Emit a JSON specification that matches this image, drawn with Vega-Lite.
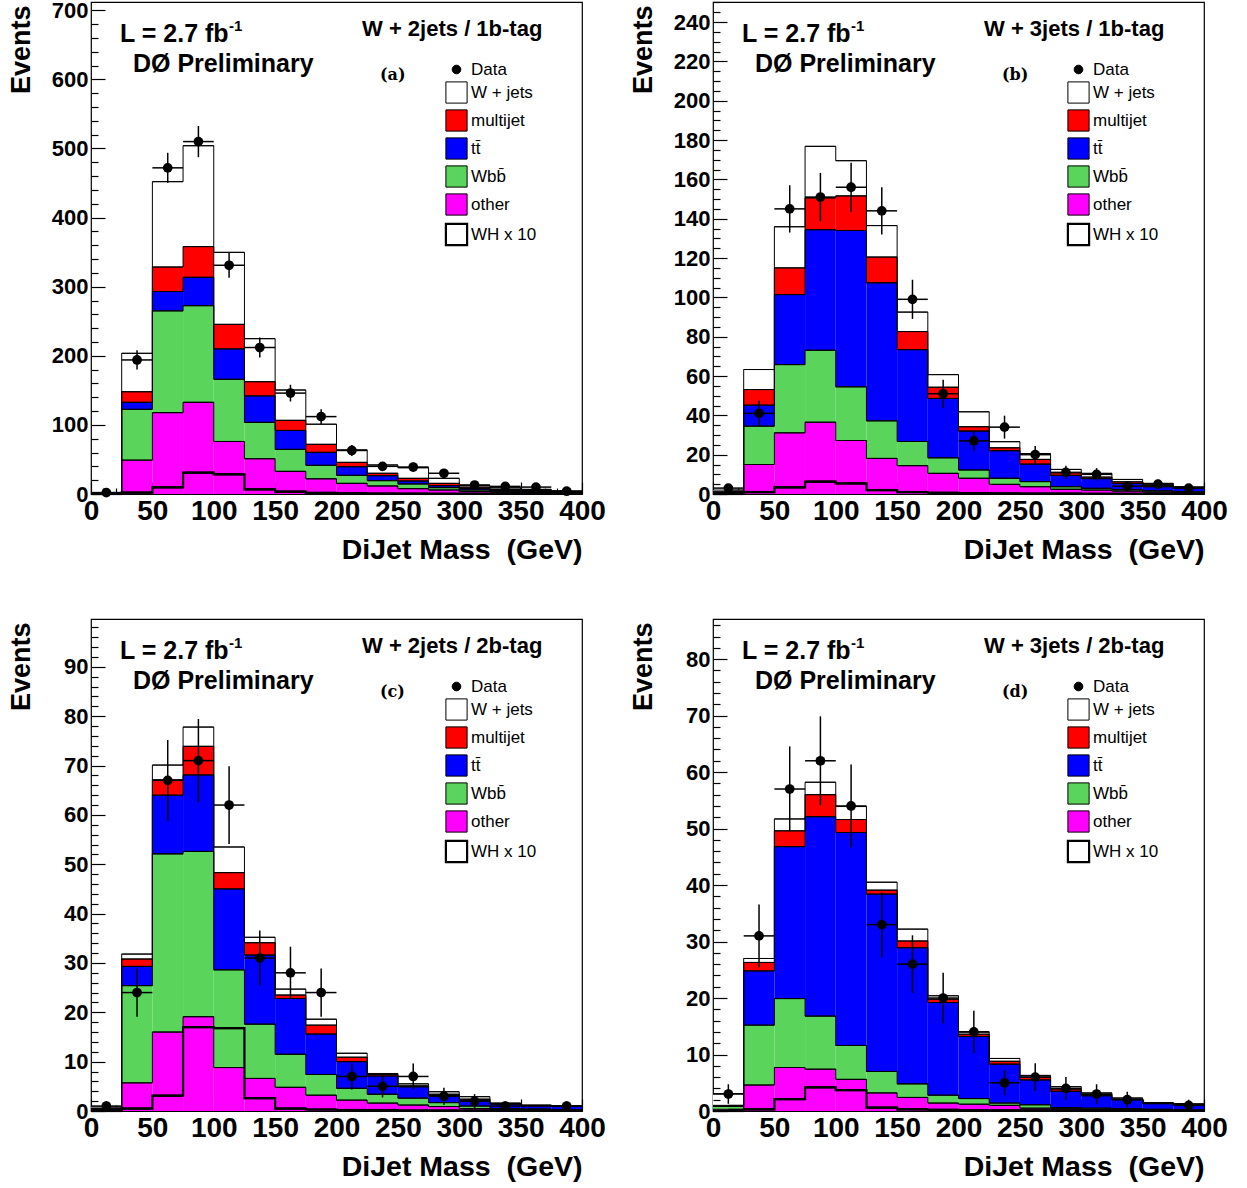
{
"$schema": "https://vega.github.io/schema/vega-lite/v6.json",
"padding": {"left": 6, "top": -2, "right": 0, "bottom": 0},
"datasets": {
"comps": [{"key":"other","comp":"other","k":0},{"key":"wbb","comp":"Wbb\u0304","k":1},{"key":"tt","comp":"tt\u0304","k":2},{"key":"mj","comp":"multijet","k":3},{"key":"wj","comp":"W + jets","k":4}],
"notes": [{"p":"a","t":"W + 2jets / 1b-tag","g":"(a)"},{"p":"b","t":"W + 3jets / 1b-tag","g":"(b)"},{"p":"c","t":"W + 2jets / 2b-tag","g":"(c)"},{"p":"d","t":"W + 3jets / 2b-tag","g":"(d)"}],
"h": [
{"p":"a","lo":0,"hi":25,"m":12.5,"other":0.2,"wbb":0.3,"tt":0.1,"mj":0.6,"wj":1.0,"wh":0,"n":2,"nlo":0.59,"nhi":3.41},
{"p":"a","lo":25,"hi":50,"m":37.5,"other":49,"wbb":73.5,"tt":10.2,"mj":15.3,"wj":55.6,"wh":2,"n":194,"nlo":180.07,"nhi":207.93},
{"p":"a","lo":50,"hi":75,"m":62.5,"other":117.7,"wbb":147.3,"tt":28,"mj":35.5,"wj":123.5,"wh":9.7,"n":472,"nlo":450.27,"nhi":493.73},
{"p":"a","lo":75,"hi":100,"m":87.5,"other":132.7,"wbb":139.8,"tt":41.1,"mj":44.4,"wj":146,"wh":30.8,"n":510,"nlo":487.42,"nhi":532.58},
{"p":"a","lo":100,"hi":125,"m":112.5,"other":76,"wbb":90,"tt":44,"mj":35.5,"wj":104.2,"wh":28.5,"n":331,"nlo":312.81,"nhi":349.19},
{"p":"a","lo":125,"hi":150,"m":137.5,"other":51,"wbb":52.7,"tt":38.3,"mj":20.5,"wj":62.3,"wh":6.8,"n":212,"nlo":197.44,"nhi":226.56},
{"p":"a","lo":150,"hi":175,"m":162.5,"other":32.8,"wbb":31.8,"tt":27.4,"mj":14.6,"wj":43.9,"wh":3.4,"n":146,"nlo":133.92,"nhi":158.08},
{"p":"a","lo":175,"hi":200,"m":187.5,"other":22,"wbb":19.5,"tt":18.8,"mj":11.6,"wj":29.1,"wh":1.5,"n":112,"nlo":101.42,"nhi":122.58},
{"p":"a","lo":200,"hi":225,"m":212.5,"other":15.4,"wbb":11.6,"tt":12.5,"mj":6.3,"wj":17.9,"wh":1,"n":63,"nlo":55.06,"nhi":70.94},
{"p":"a","lo":225,"hi":250,"m":237.5,"other":11.6,"wbb":7.7,"tt":7.2,"mj":3.5,"wj":12,"wh":0.6,"n":40,"nlo":33.68,"nhi":46.32},
{"p":"a","lo":250,"hi":275,"m":262.5,"other":7.7,"wbb":6.8,"tt":4.3,"mj":3.9,"wj":15.3,"wh":0.4,"n":39,"nlo":32.76,"nhi":45.24},
{"p":"a","lo":275,"hi":300,"m":287.5,"other":5.8,"wbb":3.4,"tt":2.8,"mj":3.4,"wj":7.3,"wh":0.3,"n":30,"nlo":24.52,"nhi":35.48},
{"p":"a","lo":300,"hi":325,"m":312.5,"other":3.4,"wbb":2.4,"tt":2.4,"mj":1.8,"wj":2.5,"wh":0.2,"n":13,"nlo":9.39,"nhi":16.61},
{"p":"a","lo":325,"hi":350,"m":337.5,"other":2.5,"wbb":1.5,"tt":1.5,"mj":1.3,"wj":2.2,"wh":0.1,"n":11,"nlo":7.68,"nhi":14.32},
{"p":"a","lo":350,"hi":375,"m":362.5,"other":1.8,"wbb":1.0,"tt":1.2,"mj":1.0,"wj":1.7,"wh":0.1,"n":10,"nlo":6.84,"nhi":13.16},
{"p":"a","lo":375,"hi":400,"m":387.5,"other":1.2,"wbb":0.8,"tt":0.8,"mj":0.7,"wj":1.0,"wh":0.1,"n":4,"nlo":2,"nhi":6},
{"p":"b","lo":0,"hi":25,"m":12.5,"other":0.2,"wbb":0.4,"tt":0.3,"mj":0.3,"wj":0.8,"wh":0,"n":3,"nlo":1.27,"nhi":4.73},
{"p":"b","lo":25,"hi":50,"m":37.5,"other":15,"wbb":19.5,"tt":10.7,"mj":7.9,"wj":10.2,"wh":1,"n":41,"nlo":34.6,"nhi":47.4},
{"p":"b","lo":50,"hi":75,"m":62.5,"other":31.1,"wbb":34.7,"tt":35.6,"mj":13.6,"wj":20.9,"wh":3.4,"n":145,"nlo":132.96,"nhi":157.04},
{"p":"b","lo":75,"hi":100,"m":87.5,"other":36.5,"wbb":36.6,"tt":61.3,"mj":16.2,"wj":26.2,"wh":6.3,"n":151,"nlo":138.71,"nhi":163.29},
{"p":"b","lo":100,"hi":125,"m":112.5,"other":27.2,"wbb":27.3,"tt":79.5,"mj":17.6,"wj":17.9,"wh":5.4,"n":156,"nlo":143.51,"nhi":168.49},
{"p":"b","lo":125,"hi":150,"m":137.5,"other":18.1,"wbb":19.1,"tt":70.2,"mj":13.1,"wj":16,"wh":2,"n":144,"nlo":132,"nhi":156},
{"p":"b","lo":150,"hi":175,"m":162.5,"other":14.4,"wbb":12.3,"tt":46.7,"mj":9.2,"wj":9.9,"wh":1,"n":99,"nlo":89.05,"nhi":108.95},
{"p":"b","lo":175,"hi":200,"m":187.5,"other":10.5,"wbb":7.9,"tt":30.2,"mj":5.7,"wj":6.4,"wh":0.6,"n":51,"nlo":43.86,"nhi":58.14},
{"p":"b","lo":200,"hi":225,"m":212.5,"other":8,"wbb":4.2,"tt":19.8,"mj":2.2,"wj":7.6,"wh":0.4,"n":27,"nlo":21.8,"nhi":32.2},
{"p":"b","lo":225,"hi":250,"m":237.5,"other":4.9,"wbb":3.1,"tt":14,"mj":1.5,"wj":3.1,"wh":0.3,"n":34,"nlo":28.17,"nhi":39.83},
{"p":"b","lo":250,"hi":275,"m":262.5,"other":3.7,"wbb":2.6,"tt":8.9,"mj":2.4,"wj":3,"wh":0.2,"n":20,"nlo":15.53,"nhi":24.47},
{"p":"b","lo":275,"hi":300,"m":287.5,"other":2.4,"wbb":1.3,"tt":5.8,"mj":1.3,"wj":1.7,"wh":0.2,"n":11,"nlo":7.68,"nhi":14.32},
{"p":"b","lo":300,"hi":325,"m":312.5,"other":2,"wbb":0.9,"tt":4.9,"mj":0.8,"wj":1.9,"wh":0.1,"n":10,"nlo":6.84,"nhi":13.16},
{"p":"b","lo":325,"hi":350,"m":337.5,"other":1.5,"wbb":0.7,"tt":3.2,"mj":0.8,"wj":1.2,"wh":0.1,"n":4,"nlo":2,"nhi":6},
{"p":"b","lo":350,"hi":375,"m":362.5,"other":1.0,"wbb":0.6,"tt":2.1,"mj":0.7,"wj":1.0,"wh":0.1,"n":5,"nlo":2.76,"nhi":7.24},
{"p":"b","lo":375,"hi":400,"m":387.5,"other":0.7,"wbb":0.5,"tt":1.7,"mj":0.3,"wj":0.5,"wh":0.1,"n":3,"nlo":1.27,"nhi":4.73},
{"p":"c","lo":0,"hi":25,"m":12.5,"other":0.1,"wbb":0.2,"tt":0.1,"mj":0.1,"wj":0.3,"wh":0,"n":1,"nlo":0,"nhi":2},
{"p":"c","lo":25,"hi":50,"m":37.5,"other":5.7,"wbb":19.7,"tt":3.9,"mj":1.5,"wj":1.0,"wh":0.5,"n":24,"nlo":19.1,"nhi":28.9},
{"p":"c","lo":50,"hi":75,"m":62.5,"other":16,"wbb":36.1,"tt":11.9,"mj":3.1,"wj":3.0,"wh":3.1,"n":67,"nlo":58.81,"nhi":75.19},
{"p":"c","lo":75,"hi":100,"m":87.5,"other":19.1,"wbb":33.5,"tt":15.5,"mj":5.8,"wj":3.9,"wh":17,"n":71,"nlo":62.57,"nhi":79.43},
{"p":"c","lo":100,"hi":125,"m":112.5,"other":8.8,"wbb":19.8,"tt":16.4,"mj":3.3,"wj":5.2,"wh":16.8,"n":62,"nlo":54.13,"nhi":69.87},
{"p":"c","lo":125,"hi":150,"m":137.5,"other":6.6,"wbb":11,"tt":14,"mj":2.5,"wj":1.1,"wh":2.6,"n":31,"nlo":25.43,"nhi":36.57},
{"p":"c","lo":150,"hi":175,"m":162.5,"other":4.8,"wbb":6.7,"tt":11.3,"mj":0.7,"wj":1.2,"wh":0.5,"n":28,"nlo":22.71,"nhi":33.29},
{"p":"c","lo":175,"hi":200,"m":187.5,"other":3.2,"wbb":4.2,"tt":8.2,"mj":1.8,"wj":1.2,"wh":0.3,"n":24,"nlo":19.1,"nhi":28.9},
{"p":"c","lo":200,"hi":225,"m":212.5,"other":2.2,"wbb":2.4,"tt":5.4,"mj":0.9,"wj":0.8,"wh":0.2,"n":7,"nlo":4.35,"nhi":9.65},
{"p":"c","lo":225,"hi":250,"m":237.5,"other":1.6,"wbb":1.8,"tt":3.7,"mj":0.3,"wj":0.2,"wh":0.2,"n":5,"nlo":2.76,"nhi":7.24},
{"p":"c","lo":250,"hi":275,"m":262.5,"other":1.2,"wbb":1.4,"tt":2.3,"mj":0.2,"wj":0.4,"wh":0.1,"n":7,"nlo":4.35,"nhi":9.65},
{"p":"c","lo":275,"hi":300,"m":287.5,"other":0.9,"wbb":0.8,"tt":1.5,"mj":0.2,"wj":0.5,"wh":0.1,"n":3,"nlo":1.27,"nhi":4.73},
{"p":"c","lo":300,"hi":325,"m":312.5,"other":0.5,"wbb":0.5,"tt":1.2,"mj":0.2,"wj":0.5,"wh":0.1,"n":2,"nlo":0.59,"nhi":3.41},
{"p":"c","lo":325,"hi":350,"m":337.5,"other":0.3,"wbb":0.2,"tt":0.9,"mj":0.1,"wj":0.1,"wh":0.1,"n":1,"nlo":0,"nhi":2},
{"p":"c","lo":350,"hi":375,"m":362.5,"other":0.2,"wbb":0.2,"tt":0.6,"mj":0.1,"wj":0.1,"wh":0.1,"n":null,"nlo":null,"nhi":null},
{"p":"c","lo":375,"hi":400,"m":387.5,"other":0.2,"wbb":0.1,"tt":0.6,"mj":0.1,"wj":0.1,"wh":0.1,"n":1,"nlo":0,"nhi":2},
{"p":"d","lo":0,"hi":25,"m":12.5,"other":0.3,"wbb":0.5,"tt":0.1,"mj":0.1,"wj":2.1,"wh":0,"n":3,"nlo":1.27,"nhi":4.73},
{"p":"d","lo":25,"hi":50,"m":37.5,"other":4.6,"wbb":10.6,"tt":9.6,"mj":1.5,"wj":0.7,"wh":0.3,"n":31,"nlo":25.43,"nhi":36.57},
{"p":"d","lo":50,"hi":75,"m":62.5,"other":7.7,"wbb":12.2,"tt":26.9,"mj":2.8,"wj":2.1,"wh":2.1,"n":57,"nlo":49.45,"nhi":64.55},
{"p":"d","lo":75,"hi":100,"m":87.5,"other":7.4,"wbb":9.4,"tt":35.3,"mj":3.9,"wj":2.2,"wh":4.2,"n":62,"nlo":54.13,"nhi":69.87},
{"p":"d","lo":100,"hi":125,"m":112.5,"other":5.6,"wbb":6.0,"tt":37.7,"mj":2.3,"wj":2.3,"wh":3.7,"n":54,"nlo":46.65,"nhi":61.35},
{"p":"d","lo":125,"hi":150,"m":137.5,"other":3.2,"wbb":3.8,"tt":31.4,"mj":0.7,"wj":1.4,"wh":0.6,"n":33,"nlo":27.26,"nhi":38.74},
{"p":"d","lo":150,"hi":175,"m":162.5,"other":2.4,"wbb":2.4,"tt":24.1,"mj":1.2,"wj":2.1,"wh":0.3,"n":26,"nlo":20.9,"nhi":31.1},
{"p":"d","lo":175,"hi":200,"m":187.5,"other":1.4,"wbb":1.4,"tt":16.4,"mj":0.6,"wj":0.6,"wh":0.2,"n":20,"nlo":15.53,"nhi":24.47},
{"p":"d","lo":200,"hi":225,"m":212.5,"other":1.2,"wbb":1.0,"tt":11.0,"mj":0.4,"wj":0.4,"wh":0.1,"n":14,"nlo":10.26,"nhi":17.74},
{"p":"d","lo":225,"hi":250,"m":237.5,"other":1.0,"wbb":0.4,"tt":6.9,"mj":0.5,"wj":0.5,"wh":0.1,"n":5,"nlo":2.76,"nhi":7.24},
{"p":"d","lo":250,"hi":275,"m":262.5,"other":0.5,"wbb":0.6,"tt":4.4,"mj":0.5,"wj":0.3,"wh":0.1,"n":6,"nlo":3.55,"nhi":8.45},
{"p":"d","lo":275,"hi":300,"m":287.5,"other":0.4,"wbb":0.2,"tt":2.9,"mj":0.4,"wj":0.4,"wh":0.1,"n":4,"nlo":2,"nhi":6},
{"p":"d","lo":300,"hi":325,"m":312.5,"other":0.3,"wbb":0.2,"tt":2.2,"mj":0.2,"wj":0.3,"wh":0.1,"n":3,"nlo":1.27,"nhi":4.73},
{"p":"d","lo":325,"hi":350,"m":337.5,"other":0.2,"wbb":0.2,"tt":1.6,"mj":0.1,"wj":0.2,"wh":0.1,"n":2,"nlo":0.59,"nhi":3.41},
{"p":"d","lo":350,"hi":375,"m":362.5,"other":0.1,"wbb":0.2,"tt":1.0,"mj":0.1,"wj":0.1,"wh":0.1,"n":null,"nlo":null,"nhi":null},
{"p":"d","lo":375,"hi":400,"m":387.5,"other":0.1,"wbb":0.1,"tt":0.9,"mj":0.1,"wj":0.1,"wh":0.1,"n":1,"nlo":0,"nhi":2}
]
},
"concat": [
{
"width": 491, "height": 492,
"data": {"name": "h"},
"transform": [{"filter": "datum.p === 'a'"}],
"layer": [
{"layer": [
{"transform": [
{"fold": ["other","wbb","tt","mj","wj"], "as": ["key","v"]},
{"lookup": "key", "from": {"data": {"name": "comps"}, "key": "key", "fields": ["comp","k"]}},
{"stack": "v", "groupby": ["lo"], "sort": [{"field": "k", "order": "ascending"}], "as": ["y0","y1"]}
],
"layer": [
{"mark": {"type": "rect"},
"encoding": {
"x": {"field": "lo", "type": "quantitative", "scale": {"domain": [0,400], "nice": false, "zero": false},
"axis": {"title": "DiJet Mass\u00a0 (GeV)", "zindex": 0, "tickCount": 100, "labelOverlap": false, "values": [0,10,20,30,40,50,60,70,80,90,100,110,120,130,140,150,160,170,180,190,200,210,220,230,240,250,260,270,280,290,300,310,320,330,340,350,360,370,380,390,400], "labelExpr": "datum.value % 50 === 0 ? datum.label : ''", "labelFontSize": {"condition": {"test": "datum.value % 50 === 0", "value": 28}, "value": 0}, "tickSize": {"condition": {"test": "datum.value % 50 === 0", "value": -12}, "value": -6}}},
"x2": {"field": "hi"},
"y": {"field": "y0", "type": "quantitative", "scale": {"domain": [0,712], "nice": false, "zero": false},
"axis": {"title": "Events", "zindex": 1, "tickCount": 100, "labelOverlap": false, "values": [0,20,40,60,80,100,120,140,160,180,200,220,240,260,280,300,320,340,360,380,400,420,440,460,480,500,520,540,560,580,600,620,640,660,680,700], "labelExpr": "datum.value % 100 === 0 ? datum.label : ''", "labelFontSize": {"condition": {"test": "datum.value % 100 === 0", "value": 22}, "value": 0}, "tickSize": {"condition": {"test": "datum.value % 100 === 0", "value": -14}, "value": -7}}},
"y2": {"field": "y1"},
"fill": {"field": "comp", "type": "nominal", "scale": {"domain": ["Data","W + jets","multijet","tt\u0304","Wbb\u0304","other","WH x 10"], "range": ["#000000","#ffffff","#ff0000","#0000ff","#5ad45a","#ff00ff","#ffffff"]},
"legend": {"symbolStrokeColor": "black", "encode": {"symbols": {"update": {"shape": {"signal": "datum.value === 'Data' ? 'circle' : 'square'"}, "size": {"signal": "datum.value === 'Data' ? 75 : 450"}, "stroke": {"value": "black"}, "strokeWidth": {"signal": "datum.value === 'WH x 10' ? 2.2 : 1"}}}}}}
}},
{"mark": {"type": "rule", "color": "black", "strokeWidth": 1},
"encoding": {"x": {"field": "lo", "type": "quantitative"}, "x2": {"field": "hi"}, "y": {"field": "y1", "type": "quantitative"}}},
{"mark": {"type": "line", "color": "black", "strokeWidth": 1, "interpolate": "step"},
"encoding": {"x": {"field": "m", "type": "quantitative"}, "y": {"field": "y1", "type": "quantitative"}, "detail": {"field": "comp", "type": "nominal"}}}
]},
{"mark": {"type": "rule", "color": "black", "strokeWidth": 2.2}, "encoding": {"x": {"field": "lo", "type": "quantitative"}, "x2": {"field": "hi"}, "y": {"field": "wh", "type": "quantitative"}}},
{"mark": {"type": "line", "color": "black", "strokeWidth": 2.2, "interpolate": "step"}, "encoding": {"x": {"field": "m", "type": "quantitative"}, "y": {"field": "wh", "type": "quantitative"}}},
{"transform": [{"filter": "datum.n > 0"}],
"layer": [
{"mark": {"type": "rule", "color": "black", "strokeWidth": 1.5}, "encoding": {"x": {"field": "m", "type": "quantitative"}, "y": {"field": "nlo", "type": "quantitative"}, "y2": {"field": "nhi"}}},
{"mark": {"type": "rule", "color": "black", "strokeWidth": 1.5}, "encoding": {"x": {"field": "lo", "type": "quantitative"}, "x2": {"field": "hi"}, "y": {"field": "n", "type": "quantitative"}}},
{"mark": {"type": "point", "shape": "circle", "filled": true, "color": "black", "opacity": 1, "size": 95, "strokeWidth": 0}, "encoding": {"x": {"field": "m", "type": "quantitative"}, "y": {"field": "n", "type": "quantitative"}}}
]}
]},
{"data": {"name": "notes"},
"transform": [{"filter": "datum.p === 'a'"}],
"layer": [
{"mark": {"type": "text", "align": "left", "baseline": "alphabetic", "fontSize": 25, "fontWeight": "bold"}, "encoding": {"x": {"datum": 23.6, "type": "quantitative"}, "y": {"datum": 0.9187, "type": "quantitative", "scale": {"domain": [0,1], "nice": false, "zero": false}, "axis": null}, "text": {"value": "L = 2.7 fb"}}},
{"mark": {"type": "text", "align": "left", "baseline": "alphabetic", "fontSize": 15, "fontWeight": "bold"}, "encoding": {"x": {"datum": 112.4, "type": "quantitative"}, "y": {"datum": 0.942, "type": "quantitative", "axis": null}, "text": {"value": "-1"}}},
{"mark": {"type": "text", "align": "left", "baseline": "alphabetic", "fontSize": 25, "fontWeight": "bold"}, "encoding": {"x": {"datum": 34.2, "type": "quantitative"}, "y": {"datum": 0.8577, "type": "quantitative", "axis": null}, "text": {"value": "D\u00d8 Preliminary"}}},
{"mark": {"type": "text", "align": "left", "baseline": "alphabetic", "fontSize": 22, "fontWeight": "bold"}, "encoding": {"x": {"datum": 220.8, "type": "quantitative"}, "y": {"datum": 0.931, "type": "quantitative", "axis": null}, "text": {"field": "t"}}},
{"mark": {"type": "text", "align": "left", "baseline": "middle", "fontSize": 16, "fontWeight": "bold", "font": "DejaVu Serif"}, "encoding": {"x": {"datum": 235.4, "type": "quantitative"}, "y": {"datum": 0.8516, "type": "quantitative", "axis": null}, "text": {"field": "g"}}}
]}
],
"resolve": {"scale": {"y": "independent"}, "axis": {"y": "independent"}}
},
{
"width": 491, "height": 492,
"data": {"name": "h"},
"transform": [{"filter": "datum.p === 'b'"}],
"layer": [
{"layer": [
{"transform": [
{"fold": ["other","wbb","tt","mj","wj"], "as": ["key","v"]},
{"lookup": "key", "from": {"data": {"name": "comps"}, "key": "key", "fields": ["comp","k"]}},
{"stack": "v", "groupby": ["lo"], "sort": [{"field": "k", "order": "ascending"}], "as": ["y0","y1"]}
],
"layer": [
{"mark": {"type": "rect"},
"encoding": {
"x": {"field": "lo", "type": "quantitative", "scale": {"domain": [0,400], "nice": false, "zero": false},
"axis": {"title": "DiJet Mass\u00a0 (GeV)", "zindex": 0, "tickCount": 100, "labelOverlap": false, "values": [0,10,20,30,40,50,60,70,80,90,100,110,120,130,140,150,160,170,180,190,200,210,220,230,240,250,260,270,280,290,300,310,320,330,340,350,360,370,380,390,400], "labelExpr": "datum.value % 50 === 0 ? datum.label : ''", "labelFontSize": {"condition": {"test": "datum.value % 50 === 0", "value": 28}, "value": 0}, "tickSize": {"condition": {"test": "datum.value % 50 === 0", "value": -12}, "value": -6}}},
"x2": {"field": "hi"},
"y": {"field": "y0", "type": "quantitative", "scale": {"domain": [0,250.2], "nice": false, "zero": false},
"axis": {"title": "Events", "zindex": 1, "tickCount": 100, "labelOverlap": false, "values": [0,5,10,15,20,25,30,35,40,45,50,55,60,65,70,75,80,85,90,95,100,105,110,115,120,125,130,135,140,145,150,155,160,165,170,175,180,185,190,195,200,205,210,215,220,225,230,235,240,245,250], "labelExpr": "datum.value % 20 === 0 ? datum.label : ''", "labelFontSize": {"condition": {"test": "datum.value % 20 === 0", "value": 22}, "value": 0}, "tickSize": {"condition": {"test": "datum.value % 20 === 0", "value": -14}, "value": -7}}},
"y2": {"field": "y1"},
"fill": {"field": "comp", "type": "nominal", "scale": {"domain": ["Data","W + jets","multijet","tt\u0304","Wbb\u0304","other","WH x 10"], "range": ["#000000","#ffffff","#ff0000","#0000ff","#5ad45a","#ff00ff","#ffffff"]},
"legend": {"symbolStrokeColor": "black", "encode": {"symbols": {"update": {"shape": {"signal": "datum.value === 'Data' ? 'circle' : 'square'"}, "size": {"signal": "datum.value === 'Data' ? 75 : 450"}, "stroke": {"value": "black"}, "strokeWidth": {"signal": "datum.value === 'WH x 10' ? 2.2 : 1"}}}}}}
}},
{"mark": {"type": "rule", "color": "black", "strokeWidth": 1},
"encoding": {"x": {"field": "lo", "type": "quantitative"}, "x2": {"field": "hi"}, "y": {"field": "y1", "type": "quantitative"}}},
{"mark": {"type": "line", "color": "black", "strokeWidth": 1, "interpolate": "step"},
"encoding": {"x": {"field": "m", "type": "quantitative"}, "y": {"field": "y1", "type": "quantitative"}, "detail": {"field": "comp", "type": "nominal"}}}
]},
{"mark": {"type": "rule", "color": "black", "strokeWidth": 2.2}, "encoding": {"x": {"field": "lo", "type": "quantitative"}, "x2": {"field": "hi"}, "y": {"field": "wh", "type": "quantitative"}}},
{"mark": {"type": "line", "color": "black", "strokeWidth": 2.2, "interpolate": "step"}, "encoding": {"x": {"field": "m", "type": "quantitative"}, "y": {"field": "wh", "type": "quantitative"}}},
{"transform": [{"filter": "datum.n > 0"}],
"layer": [
{"mark": {"type": "rule", "color": "black", "strokeWidth": 1.5}, "encoding": {"x": {"field": "m", "type": "quantitative"}, "y": {"field": "nlo", "type": "quantitative"}, "y2": {"field": "nhi"}}},
{"mark": {"type": "rule", "color": "black", "strokeWidth": 1.5}, "encoding": {"x": {"field": "lo", "type": "quantitative"}, "x2": {"field": "hi"}, "y": {"field": "n", "type": "quantitative"}}},
{"mark": {"type": "point", "shape": "circle", "filled": true, "color": "black", "opacity": 1, "size": 95, "strokeWidth": 0}, "encoding": {"x": {"field": "m", "type": "quantitative"}, "y": {"field": "n", "type": "quantitative"}}}
]}
]},
{"data": {"name": "notes"},
"transform": [{"filter": "datum.p === 'b'"}],
"layer": [
{"mark": {"type": "text", "align": "left", "baseline": "alphabetic", "fontSize": 25, "fontWeight": "bold"}, "encoding": {"x": {"datum": 23.6, "type": "quantitative"}, "y": {"datum": 0.9187, "type": "quantitative", "scale": {"domain": [0,1], "nice": false, "zero": false}, "axis": null}, "text": {"value": "L = 2.7 fb"}}},
{"mark": {"type": "text", "align": "left", "baseline": "alphabetic", "fontSize": 15, "fontWeight": "bold"}, "encoding": {"x": {"datum": 112.4, "type": "quantitative"}, "y": {"datum": 0.942, "type": "quantitative", "axis": null}, "text": {"value": "-1"}}},
{"mark": {"type": "text", "align": "left", "baseline": "alphabetic", "fontSize": 25, "fontWeight": "bold"}, "encoding": {"x": {"datum": 34.2, "type": "quantitative"}, "y": {"datum": 0.8577, "type": "quantitative", "axis": null}, "text": {"value": "D\u00d8 Preliminary"}}},
{"mark": {"type": "text", "align": "left", "baseline": "alphabetic", "fontSize": 22, "fontWeight": "bold"}, "encoding": {"x": {"datum": 220.8, "type": "quantitative"}, "y": {"datum": 0.931, "type": "quantitative", "axis": null}, "text": {"field": "t"}}},
{"mark": {"type": "text", "align": "left", "baseline": "middle", "fontSize": 16, "fontWeight": "bold", "font": "DejaVu Serif"}, "encoding": {"x": {"datum": 235.4, "type": "quantitative"}, "y": {"datum": 0.8516, "type": "quantitative", "axis": null}, "text": {"field": "g"}}}
]}
],
"resolve": {"scale": {"y": "independent"}, "axis": {"y": "independent"}}
},
{
"width": 491, "height": 492,
"data": {"name": "h"},
"transform": [{"filter": "datum.p === 'c'"}],
"layer": [
{"layer": [
{"transform": [
{"fold": ["other","wbb","tt","mj","wj"], "as": ["key","v"]},
{"lookup": "key", "from": {"data": {"name": "comps"}, "key": "key", "fields": ["comp","k"]}},
{"stack": "v", "groupby": ["lo"], "sort": [{"field": "k", "order": "ascending"}], "as": ["y0","y1"]}
],
"layer": [
{"mark": {"type": "rect"},
"encoding": {
"x": {"field": "lo", "type": "quantitative", "scale": {"domain": [0,400], "nice": false, "zero": false},
"axis": {"title": "DiJet Mass\u00a0 (GeV)", "zindex": 0, "tickCount": 100, "labelOverlap": false, "values": [0,10,20,30,40,50,60,70,80,90,100,110,120,130,140,150,160,170,180,190,200,210,220,230,240,250,260,270,280,290,300,310,320,330,340,350,360,370,380,390,400], "labelExpr": "datum.value % 50 === 0 ? datum.label : ''", "labelFontSize": {"condition": {"test": "datum.value % 50 === 0", "value": 28}, "value": 0}, "tickSize": {"condition": {"test": "datum.value % 50 === 0", "value": -12}, "value": -6}}},
"x2": {"field": "hi"},
"y": {"field": "y0", "type": "quantitative", "scale": {"domain": [0,99.7], "nice": false, "zero": false},
"axis": {"title": "Events", "zindex": 1, "tickCount": 100, "labelOverlap": false, "values": [0,2,4,6,8,10,12,14,16,18,20,22,24,26,28,30,32,34,36,38,40,42,44,46,48,50,52,54,56,58,60,62,64,66,68,70,72,74,76,78,80,82,84,86,88,90,92,94,96,98], "labelExpr": "datum.value % 10 === 0 ? datum.label : ''", "labelFontSize": {"condition": {"test": "datum.value % 10 === 0", "value": 22}, "value": 0}, "tickSize": {"condition": {"test": "datum.value % 10 === 0", "value": -14}, "value": -7}}},
"y2": {"field": "y1"},
"fill": {"field": "comp", "type": "nominal", "scale": {"domain": ["Data","W + jets","multijet","tt\u0304","Wbb\u0304","other","WH x 10"], "range": ["#000000","#ffffff","#ff0000","#0000ff","#5ad45a","#ff00ff","#ffffff"]},
"legend": {"symbolStrokeColor": "black", "encode": {"symbols": {"update": {"shape": {"signal": "datum.value === 'Data' ? 'circle' : 'square'"}, "size": {"signal": "datum.value === 'Data' ? 75 : 450"}, "stroke": {"value": "black"}, "strokeWidth": {"signal": "datum.value === 'WH x 10' ? 2.2 : 1"}}}}}}
}},
{"mark": {"type": "rule", "color": "black", "strokeWidth": 1},
"encoding": {"x": {"field": "lo", "type": "quantitative"}, "x2": {"field": "hi"}, "y": {"field": "y1", "type": "quantitative"}}},
{"mark": {"type": "line", "color": "black", "strokeWidth": 1, "interpolate": "step"},
"encoding": {"x": {"field": "m", "type": "quantitative"}, "y": {"field": "y1", "type": "quantitative"}, "detail": {"field": "comp", "type": "nominal"}}}
]},
{"mark": {"type": "rule", "color": "black", "strokeWidth": 2.2}, "encoding": {"x": {"field": "lo", "type": "quantitative"}, "x2": {"field": "hi"}, "y": {"field": "wh", "type": "quantitative"}}},
{"mark": {"type": "line", "color": "black", "strokeWidth": 2.2, "interpolate": "step"}, "encoding": {"x": {"field": "m", "type": "quantitative"}, "y": {"field": "wh", "type": "quantitative"}}},
{"transform": [{"filter": "datum.n > 0"}],
"layer": [
{"mark": {"type": "rule", "color": "black", "strokeWidth": 1.5}, "encoding": {"x": {"field": "m", "type": "quantitative"}, "y": {"field": "nlo", "type": "quantitative"}, "y2": {"field": "nhi"}}},
{"mark": {"type": "rule", "color": "black", "strokeWidth": 1.5}, "encoding": {"x": {"field": "lo", "type": "quantitative"}, "x2": {"field": "hi"}, "y": {"field": "n", "type": "quantitative"}}},
{"mark": {"type": "point", "shape": "circle", "filled": true, "color": "black", "opacity": 1, "size": 95, "strokeWidth": 0}, "encoding": {"x": {"field": "m", "type": "quantitative"}, "y": {"field": "n", "type": "quantitative"}}}
]}
]},
{"data": {"name": "notes"},
"transform": [{"filter": "datum.p === 'c'"}],
"layer": [
{"mark": {"type": "text", "align": "left", "baseline": "alphabetic", "fontSize": 25, "fontWeight": "bold"}, "encoding": {"x": {"datum": 23.6, "type": "quantitative"}, "y": {"datum": 0.9187, "type": "quantitative", "scale": {"domain": [0,1], "nice": false, "zero": false}, "axis": null}, "text": {"value": "L = 2.7 fb"}}},
{"mark": {"type": "text", "align": "left", "baseline": "alphabetic", "fontSize": 15, "fontWeight": "bold"}, "encoding": {"x": {"datum": 112.4, "type": "quantitative"}, "y": {"datum": 0.942, "type": "quantitative", "axis": null}, "text": {"value": "-1"}}},
{"mark": {"type": "text", "align": "left", "baseline": "alphabetic", "fontSize": 25, "fontWeight": "bold"}, "encoding": {"x": {"datum": 34.2, "type": "quantitative"}, "y": {"datum": 0.8577, "type": "quantitative", "axis": null}, "text": {"value": "D\u00d8 Preliminary"}}},
{"mark": {"type": "text", "align": "left", "baseline": "alphabetic", "fontSize": 22, "fontWeight": "bold"}, "encoding": {"x": {"datum": 220.8, "type": "quantitative"}, "y": {"datum": 0.931, "type": "quantitative", "axis": null}, "text": {"field": "t"}}},
{"mark": {"type": "text", "align": "left", "baseline": "middle", "fontSize": 16, "fontWeight": "bold", "font": "DejaVu Serif"}, "encoding": {"x": {"datum": 235.4, "type": "quantitative"}, "y": {"datum": 0.8516, "type": "quantitative", "axis": null}, "text": {"field": "g"}}}
]}
],
"resolve": {"scale": {"y": "independent"}, "axis": {"y": "independent"}}
},
{
"width": 491, "height": 492,
"data": {"name": "h"},
"transform": [{"filter": "datum.p === 'd'"}],
"layer": [
{"layer": [
{"transform": [
{"fold": ["other","wbb","tt","mj","wj"], "as": ["key","v"]},
{"lookup": "key", "from": {"data": {"name": "comps"}, "key": "key", "fields": ["comp","k"]}},
{"stack": "v", "groupby": ["lo"], "sort": [{"field": "k", "order": "ascending"}], "as": ["y0","y1"]}
],
"layer": [
{"mark": {"type": "rect"},
"encoding": {
"x": {"field": "lo", "type": "quantitative", "scale": {"domain": [0,400], "nice": false, "zero": false},
"axis": {"title": "DiJet Mass\u00a0 (GeV)", "zindex": 0, "tickCount": 100, "labelOverlap": false, "values": [0,10,20,30,40,50,60,70,80,90,100,110,120,130,140,150,160,170,180,190,200,210,220,230,240,250,260,270,280,290,300,310,320,330,340,350,360,370,380,390,400], "labelExpr": "datum.value % 50 === 0 ? datum.label : ''", "labelFontSize": {"condition": {"test": "datum.value % 50 === 0", "value": 28}, "value": 0}, "tickSize": {"condition": {"test": "datum.value % 50 === 0", "value": -12}, "value": -6}}},
"x2": {"field": "hi"},
"y": {"field": "y0", "type": "quantitative", "scale": {"domain": [0,87.1], "nice": false, "zero": false},
"axis": {"title": "Events", "zindex": 1, "tickCount": 100, "labelOverlap": false, "values": [0,2,4,6,8,10,12,14,16,18,20,22,24,26,28,30,32,34,36,38,40,42,44,46,48,50,52,54,56,58,60,62,64,66,68,70,72,74,76,78,80,82,84,86], "labelExpr": "datum.value % 10 === 0 ? datum.label : ''", "labelFontSize": {"condition": {"test": "datum.value % 10 === 0", "value": 22}, "value": 0}, "tickSize": {"condition": {"test": "datum.value % 10 === 0", "value": -14}, "value": -7}}},
"y2": {"field": "y1"},
"fill": {"field": "comp", "type": "nominal", "scale": {"domain": ["Data","W + jets","multijet","tt\u0304","Wbb\u0304","other","WH x 10"], "range": ["#000000","#ffffff","#ff0000","#0000ff","#5ad45a","#ff00ff","#ffffff"]},
"legend": {"symbolStrokeColor": "black", "encode": {"symbols": {"update": {"shape": {"signal": "datum.value === 'Data' ? 'circle' : 'square'"}, "size": {"signal": "datum.value === 'Data' ? 75 : 450"}, "stroke": {"value": "black"}, "strokeWidth": {"signal": "datum.value === 'WH x 10' ? 2.2 : 1"}}}}}}
}},
{"mark": {"type": "rule", "color": "black", "strokeWidth": 1},
"encoding": {"x": {"field": "lo", "type": "quantitative"}, "x2": {"field": "hi"}, "y": {"field": "y1", "type": "quantitative"}}},
{"mark": {"type": "line", "color": "black", "strokeWidth": 1, "interpolate": "step"},
"encoding": {"x": {"field": "m", "type": "quantitative"}, "y": {"field": "y1", "type": "quantitative"}, "detail": {"field": "comp", "type": "nominal"}}}
]},
{"mark": {"type": "rule", "color": "black", "strokeWidth": 2.2}, "encoding": {"x": {"field": "lo", "type": "quantitative"}, "x2": {"field": "hi"}, "y": {"field": "wh", "type": "quantitative"}}},
{"mark": {"type": "line", "color": "black", "strokeWidth": 2.2, "interpolate": "step"}, "encoding": {"x": {"field": "m", "type": "quantitative"}, "y": {"field": "wh", "type": "quantitative"}}},
{"transform": [{"filter": "datum.n > 0"}],
"layer": [
{"mark": {"type": "rule", "color": "black", "strokeWidth": 1.5}, "encoding": {"x": {"field": "m", "type": "quantitative"}, "y": {"field": "nlo", "type": "quantitative"}, "y2": {"field": "nhi"}}},
{"mark": {"type": "rule", "color": "black", "strokeWidth": 1.5}, "encoding": {"x": {"field": "lo", "type": "quantitative"}, "x2": {"field": "hi"}, "y": {"field": "n", "type": "quantitative"}}},
{"mark": {"type": "point", "shape": "circle", "filled": true, "color": "black", "opacity": 1, "size": 95, "strokeWidth": 0}, "encoding": {"x": {"field": "m", "type": "quantitative"}, "y": {"field": "n", "type": "quantitative"}}}
]}
]},
{"data": {"name": "notes"},
"transform": [{"filter": "datum.p === 'd'"}],
"layer": [
{"mark": {"type": "text", "align": "left", "baseline": "alphabetic", "fontSize": 25, "fontWeight": "bold"}, "encoding": {"x": {"datum": 23.6, "type": "quantitative"}, "y": {"datum": 0.9187, "type": "quantitative", "scale": {"domain": [0,1], "nice": false, "zero": false}, "axis": null}, "text": {"value": "L = 2.7 fb"}}},
{"mark": {"type": "text", "align": "left", "baseline": "alphabetic", "fontSize": 15, "fontWeight": "bold"}, "encoding": {"x": {"datum": 112.4, "type": "quantitative"}, "y": {"datum": 0.942, "type": "quantitative", "axis": null}, "text": {"value": "-1"}}},
{"mark": {"type": "text", "align": "left", "baseline": "alphabetic", "fontSize": 25, "fontWeight": "bold"}, "encoding": {"x": {"datum": 34.2, "type": "quantitative"}, "y": {"datum": 0.8577, "type": "quantitative", "axis": null}, "text": {"value": "D\u00d8 Preliminary"}}},
{"mark": {"type": "text", "align": "left", "baseline": "alphabetic", "fontSize": 22, "fontWeight": "bold"}, "encoding": {"x": {"datum": 220.8, "type": "quantitative"}, "y": {"datum": 0.931, "type": "quantitative", "axis": null}, "text": {"field": "t"}}},
{"mark": {"type": "text", "align": "left", "baseline": "middle", "fontSize": 16, "fontWeight": "bold", "font": "DejaVu Serif"}, "encoding": {"x": {"datum": 235.4, "type": "quantitative"}, "y": {"datum": 0.8516, "type": "quantitative", "axis": null}, "text": {"field": "g"}}}
]}
],
"resolve": {"scale": {"y": "independent"}, "axis": {"y": "independent"}}
}
],
"columns": 2,
"spacing": {"row": 125, "column": 131},
"bounds": "flush",
"resolve": {"scale": {"fill": "independent", "x": "independent", "y": "independent"}, "legend": {"fill": "independent"}},
"config": {
"font": "Liberation Sans",
"background": "white",
"view": {"stroke": "black", "strokeWidth": 1.2},
"axis": {"grid": false, "domain": false, "labelColor": "black", "titleColor": "black", "tickColor": "black", "tickWidth": 1.2, "labelFontWeight": "bold", "titleFontWeight": "bold", "labelOverlap": false, "labelFlush": false},
"axisX": {"labelFontSize": 28, "labelPadding": 15, "titleFontSize": 28.5, "titleX": 491, "titleY": 64, "titleAlign": "right", "titleBaseline": "alphabetic"},
"axisY": {"labelFontSize": 22, "labelPadding": 17, "titleFontSize": 27, "titleX": -62, "titleY": 3, "titleAngle": 270, "titleAlign": "right", "titleBaseline": "alphabetic"},
"legend": {"orient": "none", "legendX": 357, "legendY": 59, "title": null, "symbolType": "square", "symbolSize": 450, "symbolStrokeColor": "black", "symbolStrokeWidth": 1, "labelFontSize": 17, "labelFont": "Liberation Sans", "labelColor": "black", "labelOffset": 6, "rowPadding": 1, "gridAlign": "each", "padding": 0}
}
}
